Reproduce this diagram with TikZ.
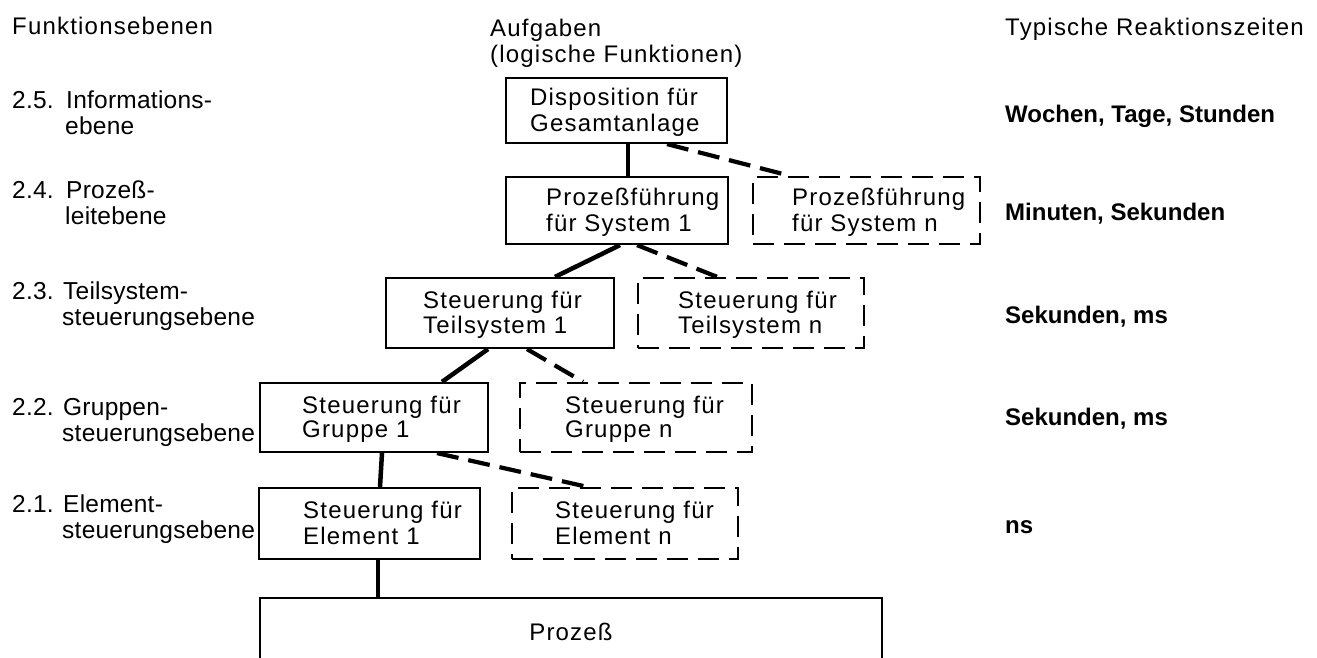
\documentclass[tikz,border=0pt]{standalone}
\usepackage{fontspec}
\setmainfont{Liberation Sans}[LetterSpace=5]
\newfontfamily\lfont{Liberation Sans}[LetterSpace=1]
\newfontfamily\rtfont{Liberation Sans}
\begin{document}
\begin{tikzpicture}[x=1pt,y=-1pt,
  box/.style={draw,line width=2.2pt,inner sep=0pt,minimum width=#1},
  dbox/.style={draw,line width=2.4pt,dash pattern=on 21pt off 10pt,inner sep=0pt,minimum width=#1},
  btxt/.style={anchor=west,align=left,inner sep=0pt,font=\fontsize{24}{24}\selectfont},
  ltxt/.style={anchor=west,align=left,inner sep=0pt,font=\lfont\fontsize{24.5}{26.5}\selectfont},
  hdtxt/.style={anchor=west,align=left,inner sep=0pt,font=\fontsize{24}{26.5}\selectfont},
  htxt/.style={anchor=base west,inner sep=0pt,font=\fontsize{24}{26.5}\selectfont},
  rtxt/.style={anchor=base west,inner sep=0pt,font=\rtfont\bfseries\fontsize{24}{26}\selectfont},
  solidc/.style={line width=4.5pt},
  dashc/.style={line width=4.2pt,dash pattern=on 22pt off 10pt}]
\fill[white] (0,0) rectangle (1317,658);
\useasboundingbox (0,0) rectangle (1317,658);

% headers
\node[htxt] (h1) at (12,35) {Funktionsebenen};
\node[hdtxt] (h2) at (490,44) {\strut Aufgaben\\\strut(logische Funktionen)};
\node[htxt] (h3) at (1005,36) {Typische Reaktionszeiten};

% level labels
\node[ltxt] (l5) at (12,116) {\strut\makebox[54pt][l]{2.5.}Informations-\\\strut\hspace*{53pt}ebene};
\node[ltxt] (l4) at (12,206) {\strut\makebox[54pt][l]{2.4.}Prozeß-\\\strut\hspace*{53pt}leitebene};
\node[ltxt] (l3) at (12,307) {\strut\makebox[51pt][l]{2.3.}Teilsystem-\\\strut\hspace*{50pt}steuerungsebene};
\node[ltxt] (l2) at (12,423) {\strut\makebox[51pt][l]{2.2.}Gruppen-\\\strut\hspace*{50pt}steuerungsebene};
\node[ltxt] (l1) at (12,520) {\strut\makebox[51pt][l]{2.1.}Element-\\\strut\hspace*{50pt}steuerungsebene};

% reaction times
\node[rtxt] (r5) at (1005,123) {Wochen, Tage, Stunden};
\node[rtxt] (r4) at (1005,220) {Minuten, Sekunden};
\node[rtxt] (r3) at (1005,323) {Sekunden, ms};
\node[rtxt] (r2) at (1005,425) {Sekunden, ms};
\node[rtxt] (r1) at (1005,533) {ns};

% boxes
\node[box=221pt,minimum height=65pt] (d) at (616.5,110.5) {};
\node[box=222pt,minimum height=67pt] (p1) at (617,210.5) {};
\node[dbox=227pt,minimum height=67pt] (pn) at (866.5,210.5) {};
\node[box=228pt,minimum height=70pt] (t1) at (500,313) {};
\node[dbox=226pt,minimum height=70pt] (tn) at (751,313) {};
\node[box=228pt,minimum height=69pt] (g1) at (374,417.5) {};
\node[dbox=232pt,minimum height=69pt] (gn) at (636,417.5) {};
\node[box=221pt,minimum height=71pt] (e1) at (369.5,523.5) {};
\node[dbox=226pt,minimum height=71pt] (en) at (625,523.5) {};
\node[box=622pt,minimum height=68pt,font=\fontsize{24}{26}\selectfont] (pr) at (571,632) {Prozeß};

% box texts
\node[btxt] (dt) at (530,113.5) {\strut Disposition für\\\strut Gesamtanlage};
\node[btxt] (p1t) at (546,213.5) {\strut Prozeßführung\\\strut für System 1};
\node[btxt] (pnt) at (792,213.5) {\strut Prozeßführung\\\strut für System n};
\node[btxt] (t1t) at (423,316) {\strut Steuerung für\\\strut Teilsystem 1};
\node[btxt] (tnt) at (678,316) {\strut Steuerung für\\\strut Teilsystem n};
\node[btxt] (g1t) at (302,420.5) {\strut Steuerung für\\\strut Gruppe 1};
\node[btxt] (gnt) at (565,420.5) {\strut Steuerung für\\\strut Gruppe n};
\node[btxt] (e1t) at (303,526.5) {\strut Steuerung für\\\strut Element 1};
\node[btxt] (ent) at (555,526.5) {\strut Steuerung für\\\strut Element n};

% connectors
\draw[solidc] ([xshift=11.5pt]d.south) -- ([xshift=11pt]p1.north);
\draw[dashc] ([xshift=50.5pt]d.south) -- ([xshift=-76.5pt]pn.north);
\draw[solidc] ([xshift=3pt]p1.south) -- ([xshift=55pt]t1.north);
\draw[dashc] ([xshift=20pt]p1.south) -- ([xshift=-34pt]tn.north);
\draw[solidc] ([xshift=-12pt]t1.south) -- ([xshift=68pt]g1.north);
\draw[dashc] ([xshift=27pt]t1.south) -- ([xshift=-53pt]gn.north);
\draw[solidc] ([xshift=8pt]g1.south) -- ([xshift=10.5pt]e1.north);
\draw[dashc] ([xshift=63pt]g1.south) -- ([xshift=-38pt]en.north);
\coordinate (eb) at ([xshift=8.5pt]e1.south);
\draw[solidc] (eb) -- (eb |- pr.north);
\end{tikzpicture}
\end{document}
